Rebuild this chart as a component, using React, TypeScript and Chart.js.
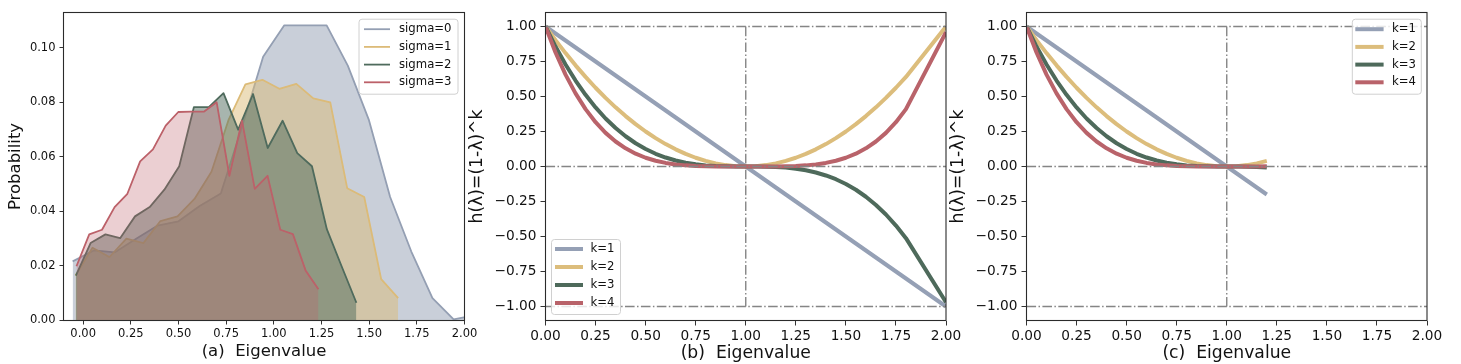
import React, { useEffect, useRef } from 'react';
import { Chart, registerables } from 'chart.js';

Chart.register(...registerables);

const FONT = 'DejaVu Sans';

// ---------- shared tick labels ----------
const EIG_TICKS = [0, 0.25, 0.5, 0.75, 1.0, 1.25, 1.5, 1.75, 2.0];
const PROB_TICKS = [0, 0.02, 0.04, 0.06, 0.08, 0.1];
const H_TICKS = [-1, -0.75, -0.5, -0.25, 0, 0.25, 0.5, 0.75, 1];

// ---------- panel (a): eigenvalue distributions ----------
const SIGMA_LABELS = ['sigma=0', 'sigma=1', 'sigma=2', 'sigma=3'];
const SIGMA_COLORS = ['#949FB3', '#DCBB78', '#4F6B5D', '#BC6169'];
const SIGMA_FILL_ALPHA = [0.5, 0.5, 0.5, 0.3];

const SIGMA0_X = [-0.055, 0.056, 0.167, 0.278, 0.389, 0.5, 0.611, 0.722, 0.833, 0.944, 1.055, 1.166, 1.277, 1.388, 1.499, 1.61, 1.721, 1.832, 1.943, 2.054];
const SIGMA0_Y = [0.0217, 0.0257, 0.025, 0.030, 0.0348, 0.0364, 0.042, 0.0466, 0.071, 0.0968, 0.1083, 0.1083, 0.1083, 0.0935, 0.0735, 0.0453, 0.0253, 0.0082, 0.0004, 0.002];

const SIGMA1_X = [-0.04, 0.049, 0.138, 0.227, 0.316, 0.405, 0.495, 0.584, 0.673, 0.762, 0.851, 0.94, 1.029, 1.118, 1.207, 1.296, 1.385, 1.474, 1.563, 1.652];
const SIGMA1_Y = [0.0165, 0.0267, 0.0233, 0.030, 0.0284, 0.0365, 0.0382, 0.0446, 0.0546, 0.0735, 0.0866, 0.0883, 0.085, 0.0868, 0.0815, 0.080, 0.0485, 0.0453, 0.0152, 0.0082];

const SIGMA2_X = [-0.038, 0.039, 0.117, 0.194, 0.272, 0.349, 0.426, 0.504, 0.581, 0.659, 0.736, 0.813, 0.891, 0.968, 1.046, 1.123, 1.2, 1.278, 1.355, 1.433];
const SIGMA2_Y = [0.0165, 0.0284, 0.0316, 0.0302, 0.0382, 0.0416, 0.048, 0.0566, 0.0783, 0.0783, 0.0834, 0.070, 0.0831, 0.0633, 0.0733, 0.0614, 0.0566, 0.0335, 0.020, 0.0065];

const SIGMA3_X = [-0.035, 0.032, 0.099, 0.165, 0.232, 0.299, 0.366, 0.433, 0.499, 0.566, 0.633, 0.7, 0.767, 0.833, 0.9, 0.967, 1.034, 1.1, 1.167, 1.234];
const SIGMA3_Y = [0.0199, 0.0316, 0.0333, 0.0416, 0.0465, 0.0584, 0.0628, 0.0715, 0.0765, 0.0766, 0.0766, 0.0801, 0.0531, 0.0733, 0.0483, 0.0531, 0.0333, 0.0317, 0.0183, 0.0115];

const SIGMA_X = [SIGMA0_X, SIGMA1_X, SIGMA2_X, SIGMA3_X];
const SIGMA_Y = [SIGMA0_Y, SIGMA1_Y, SIGMA2_Y, SIGMA3_Y];

// ---------- panels (b), (c): filter responses h(λ)=(1-λ)^k ----------
const K_LABELS = ['k=1', 'k=2', 'k=3', 'k=4'];
const K_COLORS = ['#95A0B5', '#DCBD7C', '#4E6A5B', '#B9636A'];

const LAMBDA = [0, 0.05, 0.1, 0.15, 0.2, 0.25, 0.3, 0.35, 0.4, 0.45, 0.5, 0.55, 0.6, 0.65, 0.7, 0.75, 0.8, 0.85, 0.9, 0.95, 1.0, 1.05, 1.1, 1.15, 1.2, 1.25, 1.3, 1.35, 1.4, 1.45, 1.5, 1.55, 1.6, 1.65, 1.7, 1.75, 1.8, 2.0];
const H_K1 = [1, 0.95, 0.9, 0.85, 0.8, 0.75, 0.7, 0.65, 0.6, 0.55, 0.5, 0.45, 0.4, 0.35, 0.3, 0.25, 0.2, 0.15, 0.1, 0.05, 0, -0.05, -0.1, -0.15, -0.2, -0.25, -0.3, -0.35, -0.4, -0.45, -0.5, -0.55, -0.6, -0.65, -0.7, -0.75, -0.8, -1.0];
const H_K2 = [1, 0.9025, 0.81, 0.7225, 0.64, 0.5625, 0.49, 0.4225, 0.36, 0.3025, 0.25, 0.2025, 0.16, 0.1225, 0.09, 0.0625, 0.04, 0.0225, 0.01, 0.0025, 0, 0.0025, 0.01, 0.0225, 0.04, 0.0625, 0.09, 0.1225, 0.16, 0.2025, 0.25, 0.3025, 0.36, 0.4225, 0.49, 0.5625, 0.64, 1.0];
const H_K3 = [1, 0.857, 0.729, 0.614, 0.512, 0.422, 0.343, 0.275, 0.216, 0.166, 0.125, 0.091, 0.064, 0.043, 0.027, 0.016, 0.008, 0.003, 0.001, 0.0001, 0, -0.0001, -0.001, -0.003, -0.008, -0.016, -0.027, -0.043, -0.064, -0.091, -0.125, -0.166, -0.216, -0.275, -0.343, -0.422, -0.512, -0.97];
const H_K4 = [1, 0.8145, 0.6561, 0.522, 0.4096, 0.3164, 0.2401, 0.1785, 0.1296, 0.0915, 0.0625, 0.041, 0.0256, 0.015, 0.0081, 0.0039, 0.0016, 0.0005, 0.0001, 0, 0, 0, 0.0001, 0.0005, 0.0016, 0.0039, 0.0081, 0.015, 0.0256, 0.041, 0.0625, 0.0915, 0.1296, 0.1785, 0.2401, 0.3164, 0.4096, 0.96];
const H_SERIES = [H_K1, H_K2, H_K3, H_K4];
const C_MAX_LAMBDA = 1.2; // panel (c) only shows the spectrum up to 1.2

const REF_H_LEVELS = [1, 0, -1];
const REF_V_AT = 1;
const REF_V_RANGE = [-1, 1];

// ---------- helpers ----------
function hexA(hex: string, a: number) {
  const n = parseInt(hex.slice(1), 16);
  return `rgba(${(n >> 16) & 255},${(n >> 8) & 255},${n & 255},${a})`;
}
const fmt2 = (v: number) => (Math.abs(v) < 1e-9 ? 0 : v).toFixed(2).replace('-', '\u2212');

const framePlugin = {
  id: 'frame',
  afterDatasetsDraw(chart: any) {
    const { ctx, chartArea: a } = chart;
    ctx.save();
    ctx.strokeStyle = '#2b2b2b';
    ctx.lineWidth = 1.1;
    ctx.strokeRect(a.left, a.top, a.right - a.left, a.bottom - a.top);
    ctx.restore();
  },
};

function makeLegend(cfg: any) {
  return {
    id: 'boxLegend',
    afterDraw(chart: any) {
      const { ctx, chartArea: a } = chart;
      const bx = cfg.anchor === 'tr' ? a.right - cfg.mx - cfg.w : a.left + cfg.mx;
      const by = cfg.anchor === 'bl' ? a.bottom - cfg.my - cfg.h : a.top + cfg.my;
      ctx.save();
      ctx.beginPath();
      ctx.roundRect(bx, by, cfg.w, cfg.h, 3);
      ctx.fillStyle = 'rgba(255,255,255,0.8)';
      ctx.fill();
      ctx.strokeStyle = '#d0d0d0';
      ctx.lineWidth = 1;
      ctx.stroke();
      const items = chart.data.datasets.filter((d: any) => d.inLegend);
      items.sort((p: any, q: any) => p.legendIndex - q.legendIndex);
      items.forEach((d: any, i: number) => {
        const cy = by + cfg.first + i * cfg.row;
        ctx.beginPath();
        ctx.moveTo(bx + cfg.l0, cy);
        ctx.lineTo(bx + cfg.l1, cy);
        ctx.strokeStyle = d.borderColor;
        ctx.lineWidth = cfg.lw;
        ctx.lineCap = 'butt';
        ctx.stroke();
        ctx.fillStyle = '#111';
        ctx.font = `${cfg.fs}px "${FONT}"`;
        ctx.textBaseline = 'middle';
        ctx.textAlign = 'left';
        ctx.fillText(d.label, bx + cfg.tx, cy);
      });
      ctx.restore();
    },
  };
}

function makeOptions(p: any) {
  return {
    responsive: false,
    animation: false,
    devicePixelRatio: 1,
    layout: { padding: { left: 0, top: p.padTop, right: p.padRight, bottom: 0 } },
    plugins: { legend: { display: false }, tooltip: { enabled: false } },
    elements: { point: { radius: 0 } },
    scales: {
      x: {
        type: 'linear',
        min: p.xMin,
        max: p.xMax,
        afterBuildTicks: (s: any) => {
          s.ticks = EIG_TICKS.map((v) => ({ value: v }));
        },
        afterFit: (s: any) => {
          s.height = p.xAxisH;
        },
        ticks: {
          autoSkip: false,
          maxRotation: 0,
          padding: p.xTickPad,
          color: '#111',
          font: { family: FONT, size: p.tickSize },
          callback: (v: any) => fmt2(Number(v)),
        },
        grid: { drawOnChartArea: false, drawTicks: true, tickLength: p.tickLen, tickColor: '#333', tickWidth: 1 },
        border: { display: false },
        title: {
          display: true,
          text: p.xTitle,
          color: '#111',
          font: { family: FONT, size: p.titleSize },
          padding: { top: 0, bottom: p.xTitlePad },
        },
      },
      y: {
        type: 'linear',
        min: p.yMin,
        max: p.yMax,
        afterBuildTicks: (s: any) => {
          s.ticks = p.yTicks.map((v: number) => ({ value: v }));
        },
        afterFit: (s: any) => {
          s.width = p.yAxisW;
        },
        ticks: {
          autoSkip: false,
          padding: p.yTickPad,
          color: '#111',
          font: { family: FONT, size: p.tickSize },
          callback: (v: any) => fmt2(Number(v)),
        },
        grid: { drawOnChartArea: false, drawTicks: true, tickLength: p.tickLen, tickColor: '#333', tickWidth: 1 },
        border: { display: false },
        title: {
          display: true,
          text: p.yTitle,
          color: '#111',
          font: { family: FONT, size: p.titleSize },
          padding: { top: p.yTitlePad, bottom: 0 },
        },
      },
    },
  };
}

function configA() {
  const datasets = SIGMA_LABELS.map((label, i) => ({
    label,
    inLegend: true,
    legendIndex: i,
    order: SIGMA_LABELS.length - 1 - i,
    data: SIGMA_X[i].map((x, j) => ({ x, y: SIGMA_Y[i][j] })),
    borderColor: SIGMA_COLORS[i],
    backgroundColor: hexA(SIGMA_COLORS[i], SIGMA_FILL_ALPHA[i]),
    borderWidth: 1.8,
    borderJoinStyle: 'round',
    fill: 'origin',
    tension: 0,
    pointRadius: 0,
  }));
  return {
    type: 'line',
    data: { datasets },
    options: makeOptions({
      xMin: -0.103, xMax: 2.0, yMin: 0, yMax: 0.113, yTicks: PROB_TICKS,
      padTop: 12.5, padRight: 18.5, yAxisW: 63.5, xAxisH: 43.5,
      tickSize: 11.5, titleSize: 16.5, tickLen: 4, xTickPad: 3, yTickPad: 4,
      xTitle: '(a)  Eigenvalue', yTitle: 'Probability', xTitlePad: 2.6, yTitlePad: 5.6,
    }),
    plugins: [framePlugin, makeLegend({ anchor: 'tr', mx: 6.5, my: 6.7, w: 99, h: 75, first: 10, row: 17.7, l0: 5, l1: 31, tx: 40, lw: 1.8, fs: 11.7 })],
  };
}

function refDatasets() {
  const ds: any[] = REF_H_LEVELS.map((y) => ({
    data: [{ x: 0, y }, { x: 2, y }],
  }));
  ds.push({ data: REF_V_RANGE.map((y) => ({ x: REF_V_AT, y })) });
  return ds.map((d) => ({
    ...d,
    order: 0,
    borderColor: '#858585',
    borderWidth: 1.4,
    borderDash: [9.6, 2.4, 1.5, 2.4],
    borderCapStyle: 'butt',
    fill: false,
    pointRadius: 0,
  }));
}

function configH(panel: 'b' | 'c') {
  const maxL = panel === 'b' ? Infinity : C_MAX_LAMBDA + 1e-9;
  const curves = K_LABELS.map((label, i) => ({
    label,
    inLegend: true,
    legendIndex: i,
    order: K_LABELS.length - i,
    data: LAMBDA.map((x, j) => ({ x, y: H_SERIES[i][j] })).filter((pt) => pt.x <= maxL),
    borderColor: K_COLORS[i],
    borderWidth: 4,
    borderJoinStyle: 'round',
    borderCapStyle: 'butt',
    fill: false,
    tension: 0,
    pointRadius: 0,
  }));
  const isB = panel === 'b';
  return {
    type: 'line',
    data: { datasets: [...refDatasets(), ...curves] },
    options: makeOptions({
      xMin: 0, xMax: 2.0, yMin: -1.1, yMax: 1.1, yTicks: H_TICKS,
      padTop: 12.5, padRight: isB ? 20 : 34, yAxisW: isB ? 79.5 : 80.5, xAxisH: 43.5,
      tickSize: 13.7, titleSize: 17.2, tickLen: 5, xTickPad: 3, yTickPad: 4,
      xTitle: `(${panel})  Eigenvalue`, yTitle: 'h(\u03bb)=(1-\u03bb)^k', xTitlePad: 0, yTitlePad: isB ? 1.7 : 2.7,
    }),
    plugins: [
      framePlugin,
      isB
        ? makeLegend({ anchor: 'bl', mx: 6, my: 6, w: 69, h: 75, first: 9.5, row: 18, l0: 3.5, l1: 31.5, tx: 39, lw: 4, fs: 11.7 })
        : makeLegend({ anchor: 'tr', mx: 5.7, my: 6.7, w: 69, h: 75, first: 10, row: 17.7, l0: 3, l1: 31.3, tx: 39.7, lw: 4, fs: 11.7 }),
    ],
  };
}

function Panel({ left, width, make }: { left: number; width: number; make: () => any }) {
  const ref = useRef<HTMLCanvasElement | null>(null);
  useEffect(() => {
    if (!ref.current) return;
    const chart = new Chart(ref.current, make());
    return () => chart.destroy();
  }, []);
  return (
    <canvas
      ref={ref}
      width={width}
      height={364}
      style={{ position: 'absolute', left, top: 0, width, height: 364 }}
    />
  );
}

export default function App() {
  return (
    <div style={{ position: 'absolute', left: 0, top: 0, width: 1461, height: 364, background: '#fff', overflow: 'hidden' }}>
      <Panel left={0} width={483} make={configA} />
      <Panel left={466} width={500} make={() => configH('b')} />
      <Panel left={946} width={515} make={() => configH('c')} />
    </div>
  );
}
